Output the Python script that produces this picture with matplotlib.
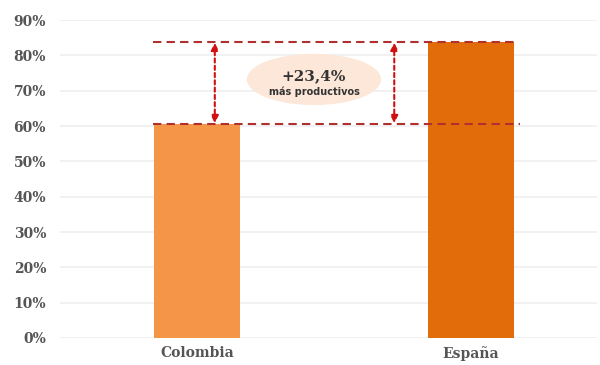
import numpy as np
import matplotlib.pyplot as plt
from matplotlib.patches import Ellipse

paises = ['Colombia', 'España']
valores = [60.5, 83.9]
colores = ['#F59548', '#E36C0A']
yticks = list(range(0, 100, 10))
diferencia = '+23,4%'
nota = 'más productivos'

fig = plt.figure(figsize=(6, 3.65), dpi=100)
ax = fig.add_axes([0.1, 0.074, 0.895, 0.871])

x = np.arange(len(paises))
ax.bar(x, valores, width=0.315, color=colores, zorder=3)

ax.set_ylim(0, 90)
ax.set_xlim(-0.5, 1.46)
ax.set_yticks(yticks)
ax.set_yticklabels(['{}%'.format(t) for t in yticks], fontsize=10,
                   fontweight='bold', color='#555555', family='DejaVu Serif')
ax.set_xticks(x)
ax.set_xticklabels(paises, fontsize=10, fontweight='bold', color='#555555',
                   family='DejaVu Serif')
ax.tick_params(length=0, pad=10)
ax.tick_params(axis='x', pad=6)
ax.grid(axis='y', color='#efefef', lw=1.2, zorder=0)
for s in ax.spines.values():
    s.set_visible(False)

# dashed reference lines
lo, hi = valores
ax.plot([-0.16, 1.16], [hi, hi], ls=(0, (4, 2.5)), color='#B03030', lw=1.5, zorder=4)
ax.plot([-0.16, 1.18], [lo, lo], ls=(0, (4, 2.5)), color='#B03030', lw=1.5, zorder=4)

# double arrows
for xa in [0.065, 0.72]:
    ax.annotate('', xy=(xa, hi - 0.3), xytext=(xa, lo + 0.3),
                arrowprops=dict(arrowstyle='<|-|>', color='#D01010', lw=1.5,
                                ls=(0, (2, 1.5)), mutation_scale=11,
                                shrinkA=0, shrinkB=0), zorder=5)

mid = (lo + hi) / 2
ax.add_patch(Ellipse((0.427, mid + 1.0), 0.49, 14.5, color='#FCE7D8', zorder=4, lw=0))
ax.text(0.427, mid + 2.0, diferencia, ha='center', va='center', fontsize=11,
        fontweight='bold', color='#333333', family='DejaVu Serif', zorder=6)
ax.text(0.427, mid - 2.6, nota, ha='center', va='center', fontsize=7,
        fontweight='bold', color='#333333', zorder=6)

fig.savefig('out.png', dpi=100)
